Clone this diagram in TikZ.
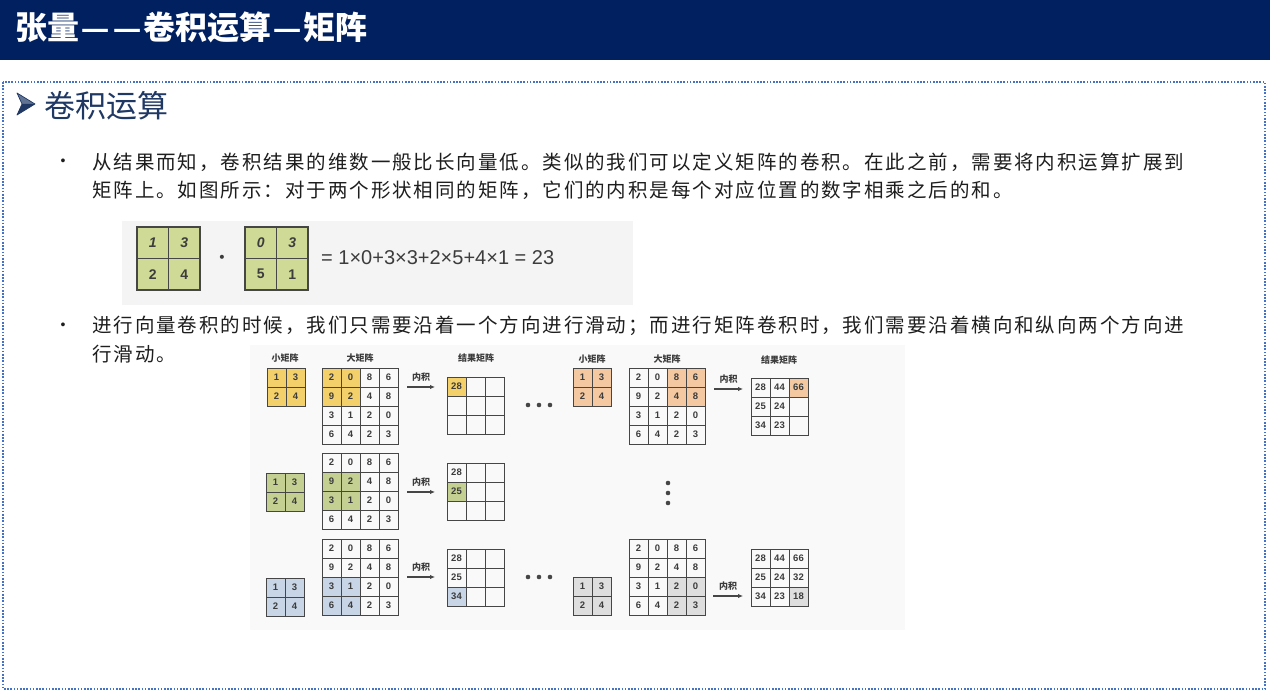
\documentclass[tikz,border=0pt]{standalone}
\usepackage{fontspec}
\usepackage{graphicx}
\usepackage{tikz}
\usepackage{xcolor}
\usetikzlibrary{arrows.meta}

\setmainfont{Liberation Sans}
\newfontfamily\cjk{Noto Sans CJK SC}
\newfontfamily\cjktext[LetterSpace=10]{Noto Sans CJK SC}
\newfontfamily\sym{DejaVu Sans}

\definecolor{titlebg}{RGB}{0,32,96}
\definecolor{headblue}{RGB}{31,56,100}
\definecolor{framblue}{RGB}{68,114,196}
\definecolor{bodytext}{RGB}{30,30,30}
\definecolor{numgray}{RGB}{60,60,60}
\definecolor{gridgray}{RGB}{70,70,70}
\definecolor{figbg}{RGB}{249,249,249}
\definecolor{prodbg}{RGB}{244,244,244}
\definecolor{prodgreen}{RGB}{207,218,150}
\definecolor{hlyellow}{RGB}{243,208,105}
\definecolor{hlorange}{RGB}{244,200,160}
\definecolor{hlgreen}{RGB}{195,208,145}
\definecolor{hlblue}{RGB}{200,213,230}
\definecolor{hlgray}{RGB}{222,222,222}

\newcommand{\tdash}{\hspace{0.1em}{\rmfamily\bfseries\scalebox{0.8}[1]{—}}\hspace{0.1em}}

\begin{document}
\begin{tikzpicture}[x=1pt, y=-1pt,
    num/.style={font=\bfseries\fontsize{9.5}{10}\selectfont, text=numgray, inner sep=0pt},
    pnum/.style={font=\bfseries\fontsize{14}{14}\selectfont, text=numgray, inner sep=0pt},
    lbl/.style={font=\cjk\bfseries\fontsize{9}{10}\selectfont, text=numgray, inner sep=0pt},
    cell/.style={draw=gridgray, line width=0.9pt},
    pcell/.style={draw=gridgray, line width=1.2pt, fill=prodgreen},
    flow/.style={draw=gridgray, line width=1.1pt, -{Latex[length=5pt,width=4.5pt]}},
    body/.style={font=\cjktext\fontsize{19.5}{22}\selectfont, text=bodytext, anchor=west, inner sep=0pt},
    bulletdot/.style={font=\fontsize{14}{14}\selectfont, text=bodytext, inner sep=0pt}]
    \def\pairmat#1#2#3#4#5#6#7{% name, x, y, four entries
        \begin{scope}[shift={(#2,#3)}]
            \foreach \k/\t in {0/#4,1/#5,2/#6,3/#7} {
                \pgfmathtruncatemacro\col{mod(\k,2)}
                \pgfmathtruncatemacro\row{div(\k,2)}
                \draw[pcell] (31.5*\col,31.5*\row) rectangle ++(31.5,31.5);
                \node[pnum] (#1-\k) at (31.5*\col+15.75,31.5*\row+15.75) {\t};
            }
        \end{scope}
    }
    \def\smallmat#1#2#3#4{% name, x, y, colour
        \begin{scope}[shift={(#2,#3)}]
            \foreach \v [count=\k from 0] in {1,3,2,4} {
                \pgfmathtruncatemacro\col{mod(\k,2)}
                \pgfmathtruncatemacro\row{div(\k,2)}
                \draw[cell, fill=#4] (19*\col,19*\row) rectangle ++(19,19);
                \node[num] (#1-\k) at (19*\col+9.5,19*\row+9.5) {\v};
            }
        \end{scope}
    }
    \def\bigmat#1#2#3#4#5#6{% name, x, y, top row, left col, colour
        \begin{scope}[shift={(#2,#3)}]
            \foreach \vals [count=\row from 0] in {{2,0,8,6},{9,2,4,8},{3,1,2,0},{6,4,2,3}} {
                \foreach \v [count=\col from 0] in \vals {
                    \pgfmathtruncatemacro\hit{(\row>=#4)*(\row<=#4+1)*(\col>=#5)*(\col<=#5+1)}
                    \ifnum\hit=1 \fill[#6] (19*\col,19*\row) rectangle ++(19,19); \fi
                    \draw[cell] (19*\col,19*\row) rectangle ++(19,19);
                    \node[num] (#1-\row-\col) at (19*\col+9.5,19*\row+9.5) {\v};
                }
            }
        \end{scope}
    }
    \def\resmat#1#2#3#4#5#6{% name, x, y, entries, marked cell, colour
        \begin{scope}[shift={(#2,#3)}]
            \pgfmathtruncatemacro\mcol{mod(#5,3)}
            \pgfmathtruncatemacro\mrow{div(#5,3)}
            \fill[#6] (19*\mcol,19*\mrow) rectangle ++(19,19);
            \foreach \k in {0,...,8} {
                \pgfmathtruncatemacro\col{mod(\k,3)}
                \pgfmathtruncatemacro\row{div(\k,3)}
                \draw[cell] (19*\col,19*\row) rectangle ++(19,19);
            }
            \foreach \k/\t in {#4} {
                \pgfmathtruncatemacro\col{mod(\k,3)}
                \pgfmathtruncatemacro\row{div(\k,3)}
                \node[num] (#1-\k) at (19*\col+9.5,19*\row+9.5) {\t};
            }
        \end{scope}
    }

    \useasboundingbox (0,0) rectangle (1270,700);
    \fill[white] (0,0) rectangle (1270,700);

    % title bar
    \fill[titlebg] (0,0) rectangle (1270,60);
    \node[anchor=base west, inner sep=0pt, text=white, font=\cjk\bfseries\fontsize{32}{34}\selectfont] (title) at (15,40) {张量\tdash\tdash 卷积运算\tdash 矩阵};

    % frame
    \draw[framblue, line width=1.6pt, dash pattern=on 1.6pt off 1.6pt] (3,82) rectangle (1265,689);
    \fill[headblue!70] (17,93) -- (35,104) -- (22,104) -- cycle;
    \fill[headblue] (17,115) -- (35,104) -- (22,104) -- cycle;
    \draw[headblue, line width=0.7pt, line join=round] (17,93) -- (35,104) -- (17,115) -- (22,104) -- cycle;
    \node[anchor=base west, inner sep=0pt, text=headblue, font=\cjk\fontsize{31}{34}\selectfont] (head) at (44,118) {卷积运算};

    % first point
    \node[bulletdot] (b1) at (63,162) {•};
    \node[body] (t1a) at (92,162) {从结果而知，卷积结果的维数一般比长向量低。类似的我们可以定义矩阵的卷积。在此之前，需要将内积运算扩展到};
    \node[body] (t1b) at (92,190) {矩阵上。如图所示：对于两个形状相同的矩阵，它们的内积是每个对应位置的数字相乘之后的和。};

    % inner product of two matrices
    \fill[prodbg] (122,221) rectangle (633,305);
    \pairmat{pa}{137}{227}{\textit{1}}{\textit{3}}{2}{4}
    \node[font=\sym\fontsize{14}{14}\selectfont, text=numgray, inner sep=0pt] (times) at (222,259) {•};
    \pairmat{pb}{245}{227}{\textit{0}}{\textit{3}}{5}{1}
    \node[anchor=west, inner sep=0pt, text=numgray, font=\fontsize{20}{22}\selectfont] (eq) at (321,258) {= 1×0+3×3+2×5+4×1 = 23};

    % second point
    \node[bulletdot] (b2) at (63,326) {•};
    \node[body] (t2a) at (92,326) {进行向量卷积的时候，我们只需要沿着一个方向进行滑动；而进行矩阵卷积时，我们需要沿着横向和纵向两个方向进};
    \node[body] (t2b) at (92,354) {行滑动。};

    % sliding figure
    \fill[figbg] (250,345) rectangle (905,630);
    \node[lbl] (l1) at (285,358) {小矩阵};
    \node[lbl] (l2) at (360,358) {大矩阵};
    \node[lbl] (l3) at (476,358) {结果矩阵};
    \node[lbl] (l4) at (592,359) {小矩阵};
    \node[lbl] (l5) at (667,359) {大矩阵};
    \node[lbl] (l6) at (779,360) {结果矩阵};

    \smallmat{s1}{267}{368}{hlyellow}
    \bigmat{m1}{322}{368}{0}{0}{hlyellow}
    \resmat{r1}{447}{377}{0/28}{0}{hlyellow}
    \coordinate (p1) at (407,387);
    \coordinate (q1) at (435,387);
    \draw[flow] (p1) -- node[lbl, above=5pt] (k1) {内积} (q1);

    \smallmat{s2}{573}{368}{hlorange}
    \bigmat{m2}{629}{368}{0}{2}{hlorange}
    \resmat{r2}{751}{378}{0/28,1/44,2/66,3/25,4/24,6/34,7/23}{2}{hlorange}
    \coordinate (p2) at (714,389);
    \coordinate (q2) at (743,389);
    \draw[flow] (p2) -- node[lbl, above=5pt] (k2) {内积} (q2);

    \smallmat{s3}{266}{473}{hlgreen}
    \bigmat{m3}{322}{453}{1}{0}{hlgreen}
    \resmat{r3}{447}{463}{0/28,3/25}{3}{hlgreen}
    \coordinate (p3) at (407,492);
    \coordinate (q3) at (435,492);
    \draw[flow] (p3) -- node[lbl, above=5pt] (k3) {内积} (q3);

    \smallmat{s4}{266}{578}{hlblue}
    \bigmat{m4}{322}{539}{2}{0}{hlblue}
    \resmat{r4}{447}{549}{0/28,3/25,6/34}{6}{hlblue}
    \coordinate (p4) at (407,577);
    \coordinate (q4) at (435,577);
    \draw[flow] (p4) -- node[lbl, above=5pt] (k4) {内积} (q4);

    \smallmat{s5}{573}{577}{hlgray}
    \bigmat{m5}{629}{539}{2}{2}{hlgray}
    \resmat{r5}{751}{549}{0/28,1/44,2/66,3/25,4/24,5/32,6/34,7/23,8/18}{8}{hlgray}
    \coordinate (p5) at (713,596);
    \coordinate (q5) at (743,596);
    \draw[flow] (p5) -- node[lbl, above=5pt] (k5) {内积} (q5);

    % dots
    \foreach \x in {528,539,550} {
        \fill[gridgray] (\x,405) circle (2.3);
        \fill[gridgray] (\x,577) circle (2.3);
    }
    \foreach \y in {483,493,503} \fill[gridgray] (668,\y) circle (2.3);
\end{tikzpicture}
\end{document}
